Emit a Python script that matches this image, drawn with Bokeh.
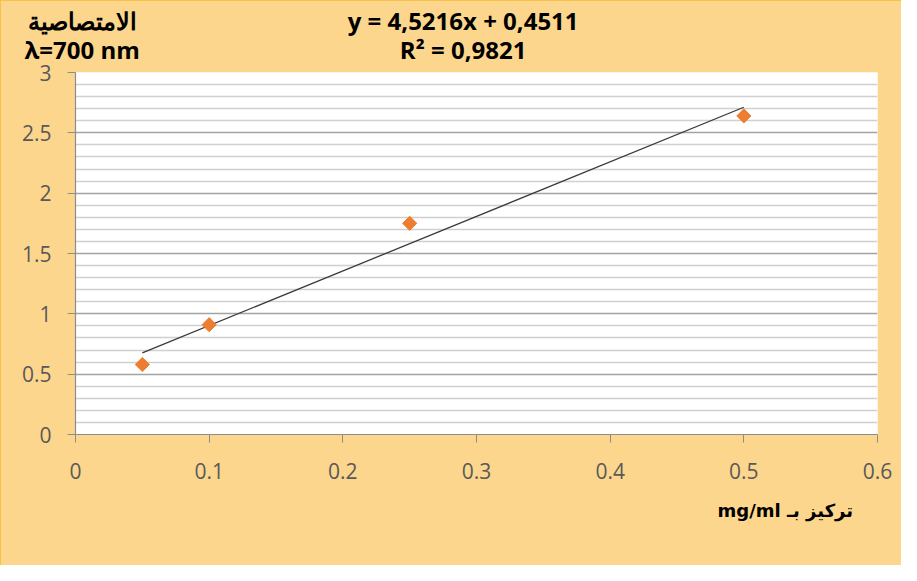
import numpy as np
from bokeh.plotting import figure
from bokeh.models import Range1d, FixedTicker, LinearAxis
from bokeh.embed import file_html
from bokeh.resources import INLINE

# ---- data ----
conc = [0.05, 0.1, 0.25, 0.5]
absorbance = [0.58, 0.91, 1.75, 2.64]
slope = 4.5216
intercept = 0.4511
r_squared = 0.9821

x_ticks = [0, 0.1, 0.2, 0.3, 0.4, 0.5, 0.6]
x_tick_labels = ["0", "0.1", "0.2", "0.3", "0.4", "0.5", "0.6"]
y_ticks = [0, 0.5, 1, 1.5, 2, 2.5, 3]
y_tick_labels = ["0", "0.5", "1", "1.5", "2", "2.5", "3"]
y_minor_ticks = [0.1, 0.2, 0.3, 0.4, 0.6, 0.7, 0.8, 0.9, 1.1, 1.2, 1.3, 1.4,
                 1.6, 1.7, 1.8, 1.9, 2.1, 2.2, 2.3, 2.4, 2.6, 2.7, 2.8, 2.9]

y_title = "الامتصاصية"
y_subtitle = "λ=700 nm"
x_title = "mg/ml تركيز بـ"
eq_text = f"y = {slope}x + {intercept}".replace(".", ",")
r2_text = f"R² = {r_squared}".replace(".", ",")

BG = "#FDD68E"
GRAY_TXT = "#595959"

p = figure(width=901, height=565, output_backend="svg", toolbar_location=None,
           x_range=Range1d(0, 0.6), y_range=Range1d(0, 3),
           min_border_left=75, min_border_right=24, min_border_top=72,
           min_border_bottom=131)
p.styles = {"outline": "1px solid #F5BD2E", "outline-offset": "-1px"}
p.background_fill_color = "white"
p.border_fill_color = BG
p.outline_line_color = None

p.xgrid.grid_line_color = None
p.ygrid.grid_line_color = "#A3A3A3"
p.ygrid.grid_line_width = 1.3
p.ygrid.minor_grid_line_color = "#D0D0D0"
p.ygrid.minor_grid_line_width = 1.3

for ax in (p.xaxis[0], p.yaxis[0]):
    ax.axis_line_color = "#8C8C8C"
    ax.axis_line_width = 1.2
    ax.major_tick_line_color = "#8C8C8C"
    ax.major_tick_out = 8
    ax.major_tick_in = 0
    ax.minor_tick_line_color = None
    ax.major_label_text_font = "Open Sans"
    ax.major_label_text_font_size = "21px"
    ax.major_label_text_color = GRAY_TXT

p.xaxis.ticker = FixedTicker(ticks=x_ticks)
p.xaxis.major_label_overrides = {t: l for t, l in zip(x_ticks, x_tick_labels)}
p.xaxis.major_label_standoff = 20
p.yaxis.ticker = FixedTicker(ticks=y_ticks, minor_ticks=y_minor_ticks)
p.yaxis.major_label_overrides = {t: l for t, l in zip(y_ticks, y_tick_labels)}
p.yaxis.major_label_standoff = 16

xs = np.array([min(conc), max(conc)])
p.line(xs, slope * xs + intercept, line_color="#3A3A3A", line_width=1.3)
p.scatter(conc, absorbance, marker="square", angle=np.pi / 4, size=10,
          fill_color="#ED7D31", line_color="#ED7D31")


# ---- text rows placed as label-only axes in the side panels ----
def text_axis(positions, texts, font, size, standoff):
    a = LinearAxis(ticker=FixedTicker(ticks=positions),
                   major_label_overrides=dict(zip(positions, texts)))
    a.axis_line_color = None
    a.major_tick_line_color = None
    a.minor_tick_line_color = None
    a.major_label_text_font = font
    a.major_label_text_font_style = "bold"
    a.major_label_text_font_size = size
    a.major_label_text_color = "black"
    a.major_label_standoff = standoff
    return a


LEFT_TXT_X = 0.005   # horizontal text centres, in x data units
EQ_TXT_X = 0.29
XT_TXT_X = 0.531

p.add_layout(text_axis([LEFT_TXT_X, EQ_TXT_X], [y_subtitle, r2_text],
                       "Open Sans", "24px", 1), "above")
p.add_layout(text_axis([LEFT_TXT_X, EQ_TXT_X], [y_title, eq_text],
                       "Open Sans", "24px", -13), "above")
p.add_layout(text_axis([XT_TXT_X], [x_title], "DejaVu Sans", "18px", 12), "below")

open("out.html", "w").write(file_html(p, INLINE))
